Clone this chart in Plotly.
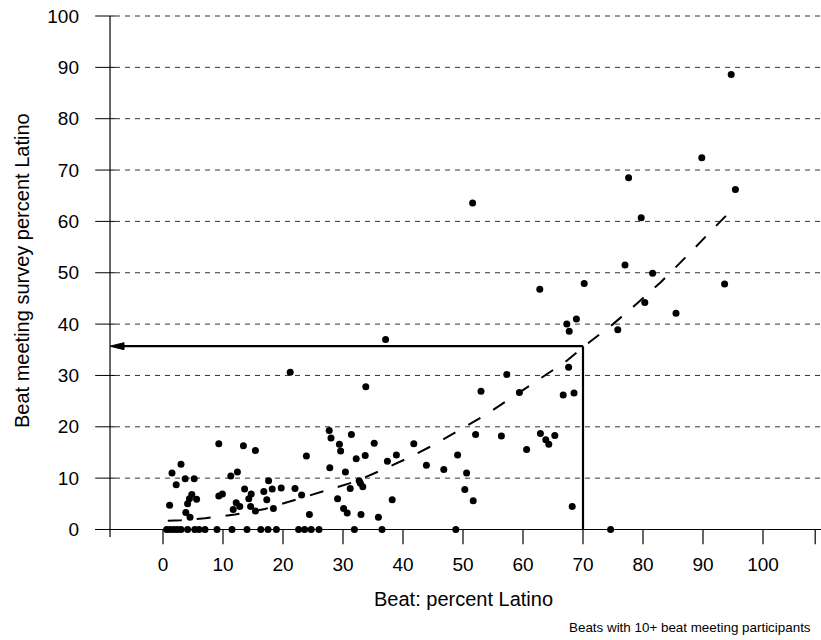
import plotly.graph_objects as go

# ---- data ----
beat_pct = [
    # x < 23
    9.3, 13.4, 15.4, 3.0, 1.5, 2.2, 3.7, 5.2, 12.4, 11.3, 17.6, 18.2, 19.7, 22.0, 13.6, 16.8,
    14.7, 14.3, 4.8, 4.4, 5.6, 9.9, 9.3, 17.3, 4.1, 1.1, 12.2, 12.8, 11.7, 14.6, 15.4, 18.4,
    3.8, 4.5,
    # 20 - 52
    33.8, 27.7, 28.0, 31.4, 29.4, 29.6, 35.2, 41.8, 52.1, 23.9, 32.2, 33.7, 38.9, 37.4, 49.1,
    27.8, 43.9, 46.8, 30.4, 50.6, 32.7, 32.9, 31.2, 33.3, 23.1, 29.1, 38.2, 50.3, 51.7, 30.1,
    30.7, 24.4, 33.0, 35.9, 21.2, 37.1, 51.6,
    # > 52
    53.0, 57.3, 59.4, 66.7, 68.5, 56.4, 62.9, 63.8, 64.3, 65.3, 60.6, 68.2, 67.6, 67.3, 67.7,
    68.9, 70.2, 62.8, 75.8, 80.3, 77.0, 81.6, 85.5, 93.6, 79.7, 77.6, 89.8, 95.4, 94.7,
    # zeros
    0.6, 1.2, 1.8, 2.4, 3.0, 4.1, 5.3, 6.0, 7.0, 9.0, 11.5, 14.0, 16.3, 17.5, 18.9, 22.6,
    23.6, 24.7, 26.0, 31.9, 36.5, 48.8, 74.6,
]
survey_pct = [
    16.7, 16.3, 15.4, 12.7, 11.0, 8.7, 9.9, 9.9, 11.2, 10.4, 9.5, 7.9, 8.1, 8.0, 7.9, 7.4,
    6.9, 6.0, 6.8, 6.0, 5.9, 6.9, 6.5, 5.8, 5.0, 4.7, 5.2, 4.5, 3.9, 4.5, 3.6, 4.1,
    3.3, 2.4,
    27.8, 19.3, 17.8, 18.5, 16.6, 15.3, 16.8, 16.7, 18.5, 14.3, 13.8, 14.4, 14.5, 13.3, 14.5,
    12.0, 12.5, 11.7, 11.2, 11.0, 9.5, 9.0, 8.0, 8.3, 6.7, 6.0, 5.8, 7.8, 5.6, 4.1,
    3.2, 2.9, 2.9, 2.4, 30.6, 37.0, 63.6,
    26.9, 30.2, 26.7, 26.2, 26.6, 18.2, 18.7, 17.5, 16.6, 18.3, 15.6, 4.5, 31.6, 40.0, 38.6,
    41.0, 47.9, 46.8, 38.9, 44.2, 51.5, 49.9, 42.1, 47.8, 60.7, 68.5, 72.4, 66.2, 88.6,
    0, 0, 0, 0, 0, 0, 0, 0, 0, 0, 0, 0, 0, 0, 0, 0,
    0, 0, 0, 0, 0, 0, 0,
]

# fitted curve as drawn
fit_x = [0.8, 3, 7, 12, 17, 22, 27, 32, 36.5, 41, 45.5, 50, 54, 58.5, 62.5, 67, 71, 75, 79, 83, 87, 90.5, 94]
fit_y = [1.7, 1.8, 2.2, 2.9, 4.0, 5.8, 7.5, 9.3, 11.6, 14.0, 16.7, 19.8, 22.5, 26.0, 29.1, 32.6, 36.4, 40.0, 44.0, 48.2, 52.9, 57.0, 61.3]

tick_vals = [0, 10, 20, 30, 40, 50, 60, 70, 80, 90, 100]
tick_text = [str(v) for v in tick_vals]

ref_x = 70      # beat percent Latino highlighted
ref_y = 35.7    # corresponding survey value

# ---- geometry ----
X_MIN, X_MAX = -11.5, 109.667
Y_MIN, Y_MAX = -3.02, 101.17
Y_AXIS_X = -8.83
FONT = "Liberation Sans, Arial, Helvetica, sans-serif"

fig = go.Figure()

fig.add_trace(go.Scatter(
    x=fit_x, y=fit_y, mode="lines",
    line=dict(color="black", width=2, dash="14px,15px"),
    hoverinfo="skip", showlegend=False,
))
fig.add_trace(go.Scatter(
    x=beat_pct, y=survey_pct, mode="markers",
    marker=dict(color="black", size=7, line=dict(width=0)),
    showlegend=False, cliponaxis=False,
))

shapes = []
for v in tick_vals[1:]:
    shapes.append(dict(type="line", xref="x", yref="y", x0=-8.0, x1=X_MAX, y0=v, y1=v,
                       line=dict(color="#333333", width=1, dash="5px,5px"), layer="below"))
for v in tick_vals:
    shapes.append(dict(type="line", xref="x", yref="y", x0=-11.3, x1=-8.0, y0=v, y1=v,
                       line=dict(color="black", width=1)))
shapes.append(dict(type="line", xref="x", yref="y", x0=Y_AXIS_X, x1=Y_AXIS_X, y0=-1.46, y1=100,
                   line=dict(color="black", width=1.2)))
shapes.append(dict(type="line", xref="x", yref="y", x0=-11.3, x1=X_MAX, y0=0, y1=0,
                   line=dict(color="black", width=1.2)))
for v in tick_vals + [108.7]:
    shapes.append(dict(type="line", xref="x", yref="y", x0=v, x1=v, y0=0, y1=-2.85,
                       line=dict(color="black", width=1.2)))
shapes.append(dict(type="line", xref="x", yref="y", x0=ref_x, x1=ref_x, y0=0, y1=ref_y,
                   line=dict(color="black", width=2.2)))
shapes.append(dict(type="line", xref="x", yref="y", x0=ref_x, x1=-7.0, y0=ref_y, y1=ref_y,
                   line=dict(color="black", width=2.2)))
shapes.append(dict(type="path", xref="x", yref="y",
                   path=f"M {Y_AXIS_X},{ref_y} L -6.5,{ref_y + 0.68} L -6.5,{ref_y - 0.68} Z",
                   fillcolor="black", line=dict(color="black", width=1)))

annotations = [
    dict(text="Beat: percent Latino", xref="x", yref="paper", x=50, y=(545 - 599) / 535,
         xanchor="center", yanchor="middle", showarrow=False,
         font=dict(family=FONT, size=20, color="black")),
    dict(text="Beat meeting survey percent Latino", xref="paper", yref="paper",
         x=(22 - 94) / 727, y=(545 - 271) / 535, textangle=-90,
         xanchor="center", yanchor="middle", showarrow=False,
         font=dict(family=FONT, size=20, color="black")),
    dict(text="Beats with 10+ beat meeting participants", xref="paper", yref="paper",
         x=(813 - 94) / 727, y=(545 - 627) / 535, xanchor="right", yanchor="middle",
         showarrow=False, font=dict(family=FONT, size=13.4, color="black")),
]

fig.update_layout(
    width=821, height=640,
    margin=dict(l=94, r=0, t=10, b=640 - 545, pad=0),
    paper_bgcolor="white", plot_bgcolor="white",
    shapes=shapes, annotations=annotations,
    font=dict(family=FONT, size=19, color="black"),
    hovermode=False,
    xaxis=dict(range=[X_MIN, X_MAX], tickvals=tick_vals, ticktext=tick_text,
               showgrid=False, zeroline=False, showline=False, ticks="", automargin=False,
               ticklabeloverflow="allow",
               ticklabelstandoff=6, tickfont=dict(family=FONT, size=19, color="black")),
    yaxis=dict(range=[Y_MIN, Y_MAX], tickvals=tick_vals, ticktext=tick_text,
               showgrid=False, zeroline=False, showline=False, ticks="", automargin=False,
               ticklabeloverflow="allow",
               ticklabelstandoff=14, tickfont=dict(family=FONT, size=19, color="black")),
)

fig.write_html("out.html",
               config={"displayModeBar": False},
               post_script="document.body.style.margin='0px';document.body.style.padding='0px';")
